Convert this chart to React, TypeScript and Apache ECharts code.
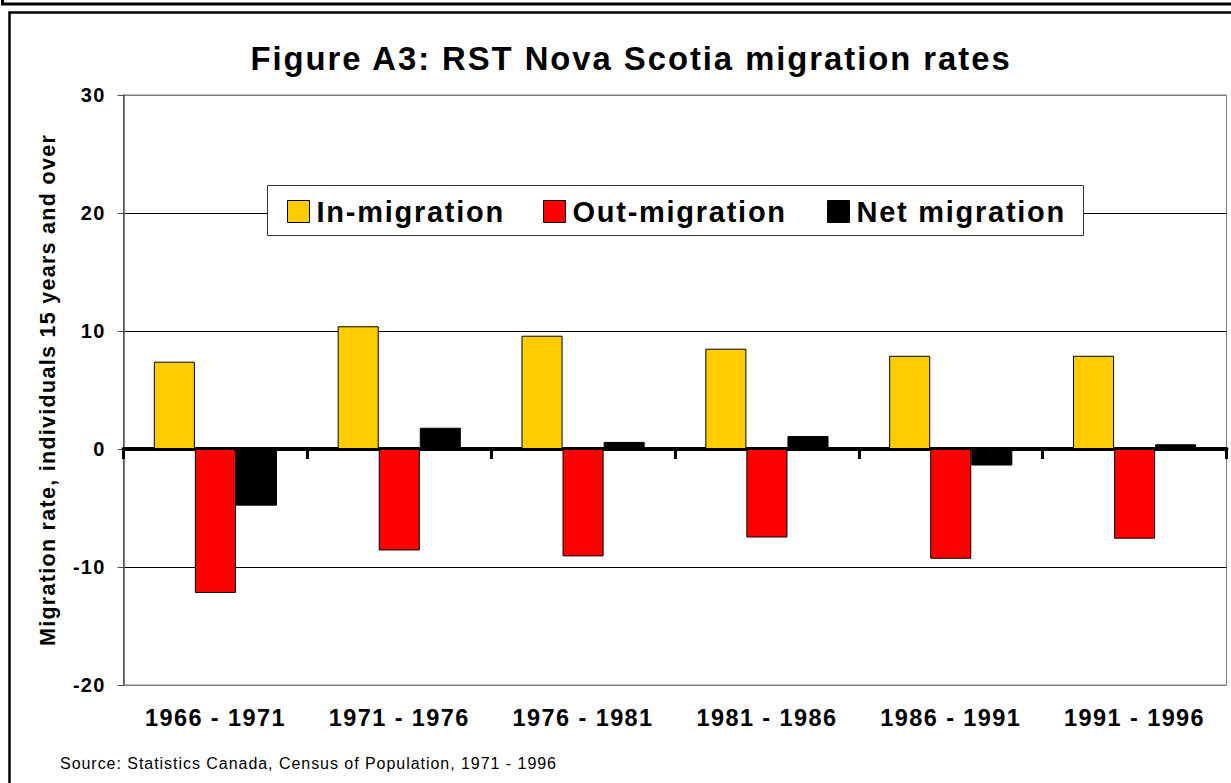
import React, { useEffect, useRef } from "react";
import * as echarts from "echarts";

const periods = ["1966 - 1971", "1971 - 1976", "1976 - 1981", "1981 - 1986", "1986 - 1991", "1991 - 1996"];
const inMigration = [7.4, 10.4, 9.6, 8.5, 7.9, 7.9];
const outMigration = [-12.2, -8.6, -9.1, -7.5, -9.3, -7.6];
const netMigration = [-4.8, 1.8, 0.6, 1.1, -1.4, 0.4];
const seriesNames = ["In-migration", "Out-migration", "Net migration"];
const seriesColors = ["#FFCC00", "#FF0000", "#000000"];
const yTicks = { min: -20, max: 30, interval: 10 };

const FONT = "'Liberation Sans', Arial, sans-serif";

export default function App() {
  const ref = useRef<HTMLDivElement>(null);
  useEffect(() => {
    if (!ref.current) return;
    const chart = echarts.init(ref.current, undefined, { renderer: "svg" });
    const values = [inMigration, outMigration, netMigration];
    const legendLefts = [287, 543, 827];
    chart.setOption({
      animation: false,
      backgroundColor: "#ffffff",
      textStyle: { fontFamily: FONT },
      title: {
        text: "Figure A3: RST Nova Scotia migration rates",
        left: 626,
        textAlign: "center",
        top: 37,
        textStyle: { fontFamily: FONT, fontSize: 32.8, fontWeight: "bold", color: "#000" },
      },
      legend: seriesNames.map((n, i) => ({
        data: [n],
        left: legendLefts[i],
        top: 197,
        padding: 0,
        itemWidth: 22,
        itemHeight: 22,
        selectedMode: false,
        icon: "rect",
        itemStyle: { borderColor: "#000", borderWidth: 1 },
        textStyle: { fontFamily: FONT, fontSize: 29, fontWeight: "bold", color: "#000", padding: [0, 0, 0, 2] },
      })),
      grid: {
        left: 123.5,
        right: 4.5,
        top: 95,
        bottom: 98,
        show: true,
        borderColor: "#808080",
        borderWidth: 1,
        backgroundColor: "transparent",
      },
      xAxis: [
        {
          type: "category",
          data: periods,
          position: "bottom",
          axisLine: { onZero: true, lineStyle: { color: "#000", width: 4 } },
          axisTick: { show: true, length: 10, lineStyle: { color: "#000", width: 3 } },
          axisLabel: { show: false },
          splitLine: { show: false },
        },
        {
          type: "category",
          data: periods,
          position: "bottom",
          axisLine: { show: false, onZero: false },
          axisTick: { show: false },
          axisLabel: { margin: 21, fontFamily: FONT, fontSize: 23.5, fontWeight: "bold", color: "#000" },
          splitLine: { show: false },
        },
      ],
      yAxis: {
        type: "value",
        min: yTicks.min,
        max: yTicks.max,
        interval: yTicks.interval,
        name: "Migration rate, individuals 15 years and over",
        nameLocation: "middle",
        nameGap: 65,
        nameTextStyle: { fontFamily: FONT, fontSize: 21.5, fontWeight: "bold", color: "#000" },
        axisLine: { show: true, lineStyle: { color: "#505050", width: 1.5 } },
        axisTick: { show: true, length: 6, lineStyle: { color: "#505050" } },
        axisLabel: { margin: 18, fontFamily: FONT, fontSize: 20, fontWeight: "bold", color: "#000" },
        splitLine: {
          show: true,
          lineStyle: { color: ["#808080", "#000", "#000", "#000", "#000", "#808080"], width: 1 },
        },
      },
      graphic: [
        {
          type: "polyline",
          z: 10,
          shape: { points: [[2.5, 0], [2.5, 4], [1231, 4]] },
          style: { stroke: "#000", lineWidth: 3, fill: "none" },
        },
        {
          type: "polyline",
          z: 10,
          shape: { points: [[9.5, 783], [9.5, 12.5], [1231, 12.5]] },
          style: { stroke: "#000", lineWidth: 2.5, fill: "none" },
        },
        {
          type: "rect",
          z: 3,
          shape: { x: 267.5, y: 185.5, width: 816, height: 50 },
          style: { fill: "#fff", stroke: "#333", lineWidth: 1 },
        },
        {
          type: "text",
          z: 10,
          left: 60,
          top: 755,
          style: {
            text: "Source: Statistics Canada, Census of Population, 1971 - 1996",
            fontFamily: FONT,
            fontSize: 16,
            fill: "#000",
          },
        },
      ],
      series: seriesNames.map((n, i) => ({
        name: n,
        type: "bar",
        xAxisIndex: 0,
        data: values[i],
        barGap: "0%",
        barCategoryGap: "33%",
        itemStyle: { color: seriesColors[i], borderColor: "#000", borderWidth: 1 },
      })),
    });
    return () => chart.dispose();
  }, []);
  return (
    <>
      <style>{"#chart-root svg text { letter-spacing: 0.06em; }"}</style>
      <div
        id="chart-root"
        ref={ref}
        style={{ position: "absolute", left: 0, top: 0, width: 1231, height: 783 }}
      />
    </>
  );
}
